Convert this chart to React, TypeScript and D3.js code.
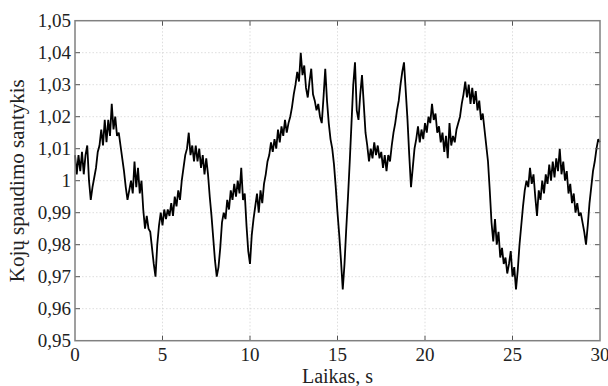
import React, { useEffect, useRef } from 'react';
import * as d3 from 'd3';

// time step of the sampled series, seconds
const timeStep = 0.1;

// foot pressure ratio, one value per 0.1 s (t = 0 ... 30)
const ratio: number[] = [
  1.008, 1.002, 1.008, 1.003, 1.009, 1.002, 1.008, 1.011, 1.000, 0.994,
  0.998, 1.001, 1.004, 1.009, 1.011, 1.016, 1.011, 1.019, 1.012, 1.019,
  1.014, 1.024, 1.016, 1.020, 1.014, 1.015, 1.011, 1.007, 1.003, 0.998,
  0.994, 0.997, 1.000, 0.996, 1.006, 0.998, 1.004, 0.996, 1.000, 0.991,
  0.985, 0.989, 0.985, 0.984, 0.979, 0.974, 0.970, 0.980, 0.986, 0.990,
  0.986, 0.991, 0.988, 0.991, 0.989, 0.993, 0.989, 0.995, 0.992, 0.997,
  0.994, 1.000, 1.004, 1.008, 1.010, 1.015, 1.008, 1.011, 1.006, 1.011,
  1.006, 1.010, 1.004, 1.008, 1.002, 1.007, 1.002, 0.995, 0.989, 0.982,
  0.975, 0.970, 0.973, 0.979, 0.987, 0.990, 0.988, 0.994, 0.991, 0.997,
  0.994, 0.999, 0.995, 1.000, 0.996, 1.004, 0.994, 0.996, 0.986, 0.978,
  0.974, 0.983, 0.988, 0.992, 0.996, 0.990, 0.997, 0.993, 0.999, 1.002,
  1.006, 1.008, 1.012, 1.009, 1.013, 1.010, 1.016, 1.012, 1.017, 1.014,
  1.019, 1.015, 1.018, 1.020, 1.023, 1.027, 1.030, 1.034, 1.031, 1.040,
  1.033, 1.036, 1.029, 1.026, 1.031, 1.035, 1.027, 1.025, 1.022, 1.024,
  1.020, 1.018, 1.026, 1.035, 1.025, 1.018, 1.013, 1.010, 1.005, 0.998,
  0.990, 0.983, 0.975, 0.966, 0.974, 0.985, 0.995, 1.006, 1.018, 1.030,
  1.037, 1.022, 1.019, 1.027, 1.033, 1.024, 1.015, 1.011, 1.006, 1.010,
  1.007, 1.012, 1.008, 1.011, 1.007, 1.009, 1.004, 1.008, 1.003, 1.008,
  1.006, 1.011, 1.015, 1.018, 1.022, 1.025, 1.030, 1.034, 1.037, 1.028,
  1.019, 1.008, 0.998, 1.004, 1.010, 1.013, 1.017, 1.012, 1.016, 1.013,
  1.018, 1.015, 1.020, 1.018, 1.024, 1.019, 1.021, 1.015, 1.017, 1.012,
  1.015, 1.009, 1.014, 1.007, 1.018, 1.011, 1.014, 1.012, 1.016, 1.018,
  1.020, 1.024, 1.027, 1.031, 1.026, 1.030, 1.024, 1.029, 1.024, 1.028,
  1.022, 1.025, 1.019, 1.021, 1.016, 1.011, 1.006, 0.997, 0.987, 0.981,
  0.988, 0.980, 0.984, 0.976, 0.979, 0.974, 0.976, 0.971, 0.974, 0.978,
  0.970, 0.973, 0.966, 0.972, 0.980, 0.986, 0.992, 0.997, 1.000, 0.998,
  1.004, 0.999, 1.002, 0.995, 0.989, 0.997, 0.994, 1.000, 0.996, 1.002,
  0.999, 1.005, 1.000, 1.006, 1.001, 1.007, 1.003, 1.010, 1.002, 1.006,
  1.000, 1.003, 0.996, 0.999, 0.993, 0.996, 0.990, 0.993, 0.989, 0.990,
  0.987, 0.984, 0.980, 0.986, 0.993, 0.998, 1.003, 1.006, 1.010, 1.013,
  1.012,
];

const xTicks = [0, 5, 10, 15, 20, 25, 30];
const yTicks = [0.95, 0.96, 0.97, 0.98, 0.99, 1.0, 1.01, 1.02, 1.03, 1.04, 1.05];

const xLabel = 'Laikas, s';
const yLabel = 'Kojų spaudimo santykis';

const fmtY = (v: number) => (Math.abs(v - 1) < 1e-9 ? '1' : v.toFixed(2).replace('.', ','));

const App = () => {
  const svgRef = useRef<SVGSVGElement | null>(null);

  useEffect(() => {
    const width = 608;
    const height = 386;
    const margin = { top: 20.7, right: 8, bottom: 45.3, left: 75 };

    const svg = d3.select(svgRef.current);
    svg.selectAll('*').remove();
    svg.attr('width', width).attr('height', height);

    const x = d3.scaleLinear().domain([0, 30]).range([margin.left, width - margin.right]);
    const y = d3.scaleLinear().domain([0.95, 1.05]).range([height - margin.bottom, margin.top]);

    const font = '"Liberation Serif", "Times New Roman", serif';
    const [x0, x1] = x.range();
    const [y0, y1] = y.range();

    // dotted grid
    const grid = svg.append('g').attr('stroke', '#d4d4d4').attr('stroke-width', 0.8).attr('stroke-dasharray', '1.5,2');
    grid.selectAll('line.gx')
      .data(xTicks.slice(1, -1))
      .join('line')
      .attr('x1', d => x(d)).attr('x2', d => x(d))
      .attr('y1', y1).attr('y2', y0);
    grid.selectAll('line.gy')
      .data(yTicks.slice(1, -1))
      .join('line')
      .attr('class', 'gy')
      .attr('x1', x0).attr('x2', x1)
      .attr('y1', d => y(d)).attr('y2', d => y(d));

    // the series
    const line = d3.line<number>()
      .x((d, i) => x(i * timeStep))
      .y(d => y(d));

    svg.append('path')
      .datum(ratio)
      .attr('d', line)
      .attr('fill', 'none')
      .attr('stroke', '#000')
      .attr('stroke-width', 1.8)
      .attr('stroke-linejoin', 'miter')
      .attr('stroke-miterlimit', 2.5);

    // inward ticks on every side
    const tk = 5;
    const ticks = svg.append('g').attr('stroke', '#555').attr('stroke-width', 1);
    xTicks.slice(1, -1).forEach(t => {
      ticks.append('line').attr('x1', x(t)).attr('x2', x(t)).attr('y1', y0).attr('y2', y0 - tk);
      ticks.append('line').attr('x1', x(t)).attr('x2', x(t)).attr('y1', y1).attr('y2', y1 + tk);
    });
    yTicks.slice(1, -1).forEach(v => {
      ticks.append('line').attr('x1', x0).attr('x2', x0 + tk).attr('y1', y(v)).attr('y2', y(v));
      ticks.append('line').attr('x1', x1).attr('x2', x1 - tk).attr('y1', y(v)).attr('y2', y(v));
    });

    // frame
    svg.append('rect')
      .attr('x', x0).attr('y', y1)
      .attr('width', x1 - x0).attr('height', y0 - y1)
      .attr('fill', 'none')
      .attr('stroke', '#808080')
      .attr('stroke-width', 1.5);

    // tick labels
    svg.append('g')
      .selectAll('text')
      .data(xTicks)
      .join('text')
      .attr('x', d => x(d))
      .attr('y', y0 + 20)
      .attr('text-anchor', 'middle')
      .attr('font-family', font)
      .attr('font-size', 19)
      .attr('fill', '#222')
      .text(d => String(d));

    svg.append('g')
      .selectAll('text')
      .data(yTicks)
      .join('text')
      .attr('x', x0 - 4)
      .attr('y', d => y(d))
      .attr('dy', '0.35em')
      .attr('text-anchor', 'end')
      .attr('font-family', font)
      .attr('font-size', 19)
      .attr('fill', '#222')
      .text(d => fmtY(d));

    // axis titles
    svg.append('text')
      .attr('x', (x0 + x1) / 2)
      .attr('y', 383)
      .attr('text-anchor', 'middle')
      .attr('font-family', font)
      .attr('font-size', 20)
      .attr('fill', '#222')
      .text(xLabel);

    svg.append('text')
      .attr('transform', `translate(24,${(y0 + y1) / 2}) rotate(-90)`)
      .attr('text-anchor', 'middle')
      .attr('font-family', font)
      .attr('font-size', 21)
      .attr('fill', '#222')
      .text(yLabel);
  }, []);

  return (
    <div style={{ position: 'absolute', left: 0, top: 0, width: 608, height: 386, background: 'white' }}>
      <svg ref={svgRef}></svg>
    </div>
  );
};

export default App;
